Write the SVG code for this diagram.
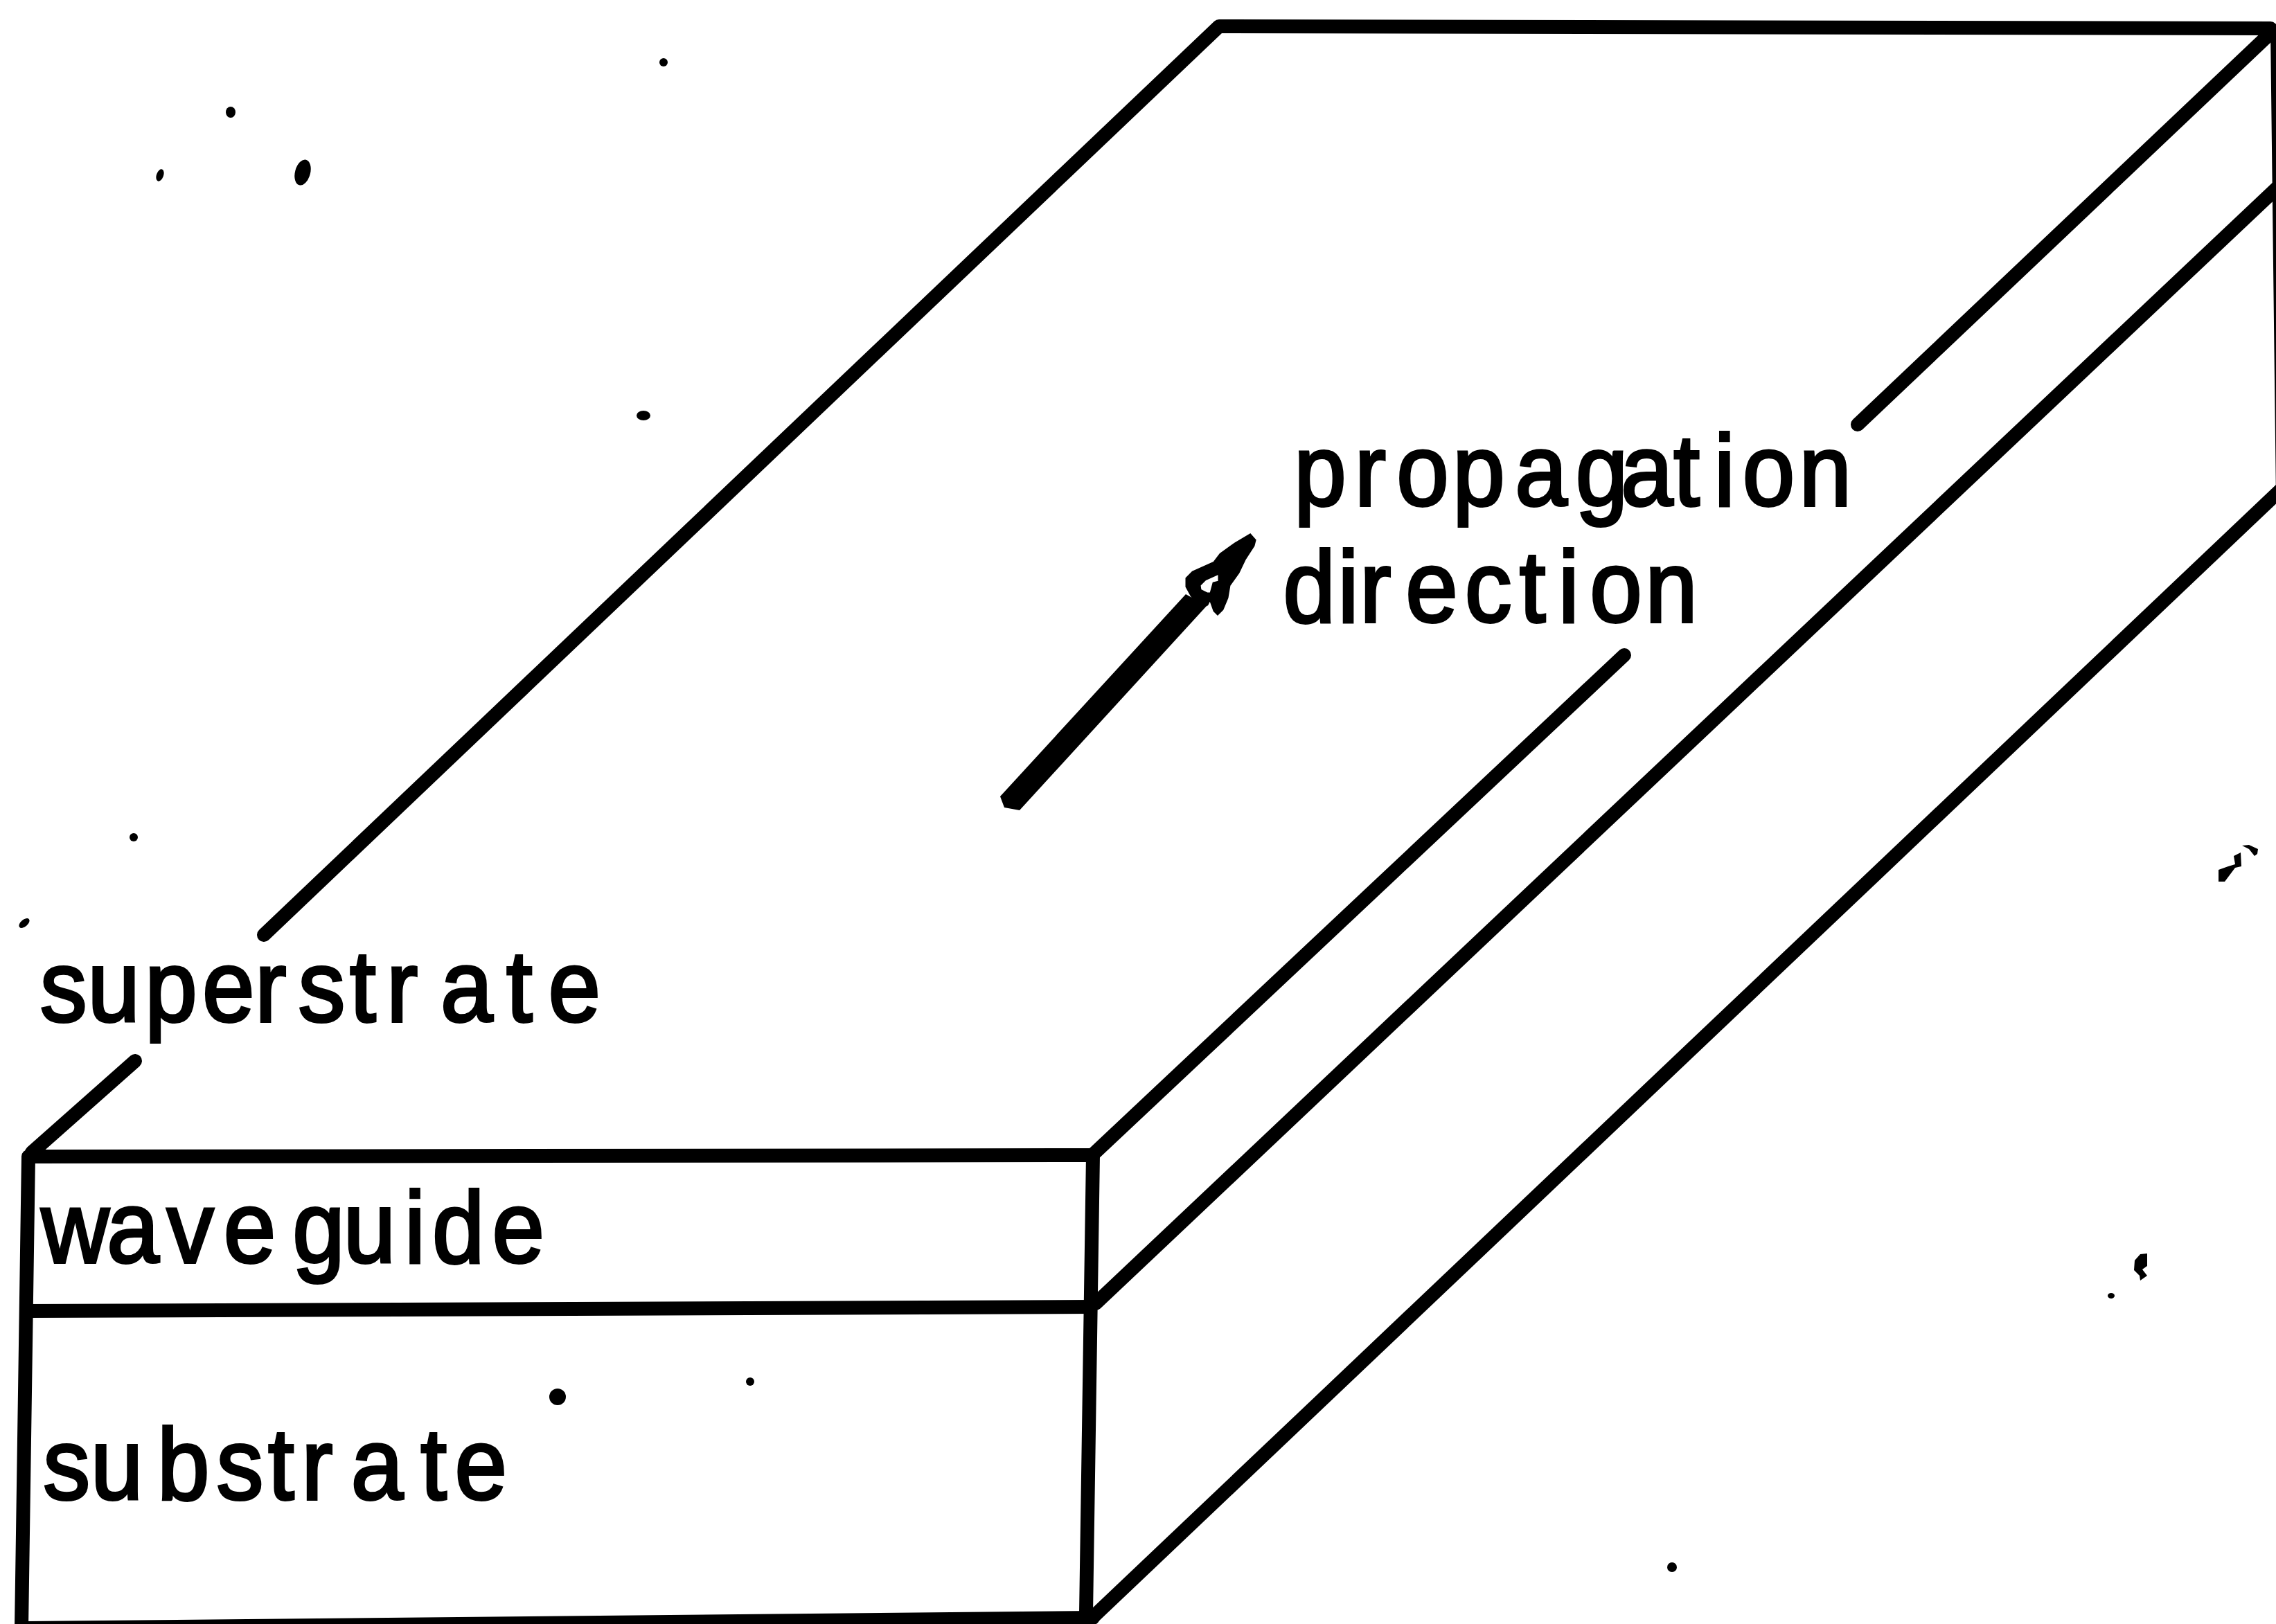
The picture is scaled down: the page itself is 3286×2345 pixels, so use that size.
<svg xmlns="http://www.w3.org/2000/svg" width="3286" height="2345" viewBox="0 0 3286 2345">
<style>
.l{fill:none;stroke:#000;stroke-width:20;stroke-linecap:round;stroke-linejoin:round}
.t{font-family:"Liberation Sans",Arial,sans-serif;font-size:146px;fill:#000;stroke:#000;stroke-width:4}
.k{fill:#000}
</style>
<rect width="3286" height="2345" fill="#fff"/>
<g id="lines">
<path class="l" d="M381 1350L1760 38L3278 41"/>
<path class="l" d="M195 1532L46 1664"/>
<path class="l" d="M45 1670L1577 1668"/>
<path class="l" d="M41 1670L31 2350"/>
<path class="l" style="stroke-linecap:butt" d="M38 1893L1577 1887"/>
<path class="l" d="M40 2351L1578 2336"/>
<path class="l" d="M1578 1668L1568 2330"/>
<path class="l" d="M1577 1668L2345 946"/>
<path class="l" d="M2682 613L3278 48"/>
<path class="l" d="M1582 1882L3292 267"/>
<path class="l" d="M1578 2335L3292 708"/>
<path class="l" style="stroke-width:14" d="M3285 44L3293 720"/>
</g>
<g id="arrow">
<polygon class="k" points="1444,1150 1450,1166 1472,1170 1742,875 1712,858"/>
<path class="k" stroke="#000" stroke-width="3" fill-rule="evenodd" d="M1805 772L1812 780L1810 788L1797 808L1788 827L1775 845L1772 863L1765 880L1758 887L1753 882L1747 865L1743 873L1733 877L1720 860L1713 847L1713 835L1722 826L1753 812L1762 800L1783 785ZM1760 828L1760 840L1752 842L1748 857L1743 857L1733 852L1732 845L1740 837Z"/>
</g>
<g id="labels" transform="scale(.93 1)">
<g id="label-propagation"><text class="t" y="730" x="2009 2103 2168 2255 2352 2446 2516 2598 2661 2705 2793">propagation</text></g>
<g id="label-direction"><text class="t" y="898" x="1992 2077 2111 2182 2274 2359 2419 2468 2554">direction</text></g>
<g id="label-superstrate"><text class="t" y="1475" x="62 136 225 314 396 463 543 600 684 786 851">superstrate</text></g>
<g id="label-waveguide"><text class="t" y="1823" x="64 166 259 347 454 533 628 671 764">waveguide</text></g>
<g id="label-substrate"><text class="t" y="2165" x="67 141 244 336 416 468 545 653 706">substrate</text></g>
</g>
<g id="specks">
<ellipse class="k" cx="333" cy="162" rx="7" ry="8"/>
<ellipse class="k" cx="231" cy="253" rx="5" ry="9" transform="rotate(20 231 253)"/>
<ellipse class="k" cx="437" cy="249" rx="11" ry="19" transform="rotate(15 437 249)"/>
<circle class="k" cx="958" cy="90" r="6"/>
<ellipse class="k" cx="929" cy="600" rx="10" ry="7"/>
<circle class="k" cx="193" cy="1209" r="6"/>
<ellipse class="k" cx="35" cy="1333" rx="9" ry="5" transform="rotate(-40 35 1333)"/>
<circle class="k" cx="805" cy="2017" r="12"/>
<circle class="k" cx="1083" cy="1995" r="6"/>
<circle class="k" cx="2414" cy="2263" r="7"/>
<ellipse class="k" cx="3048" cy="1871" rx="5" ry="4"/>
<polygon class="k" points="3203,1256 3217,1251 3227,1248 3225,1236 3235,1231 3236,1251 3227,1253 3212,1273 3203,1273"/>
<polygon class="k" points="3237,1221 3247,1220 3260,1226 3259,1233 3255,1236 3247,1226"/>
<polygon class="k" points="3082,1820 3090,1811 3100,1810 3100,1828 3093,1833 3100,1842 3090,1849 3089,1842 3081,1834"/>
</g>
</svg>
